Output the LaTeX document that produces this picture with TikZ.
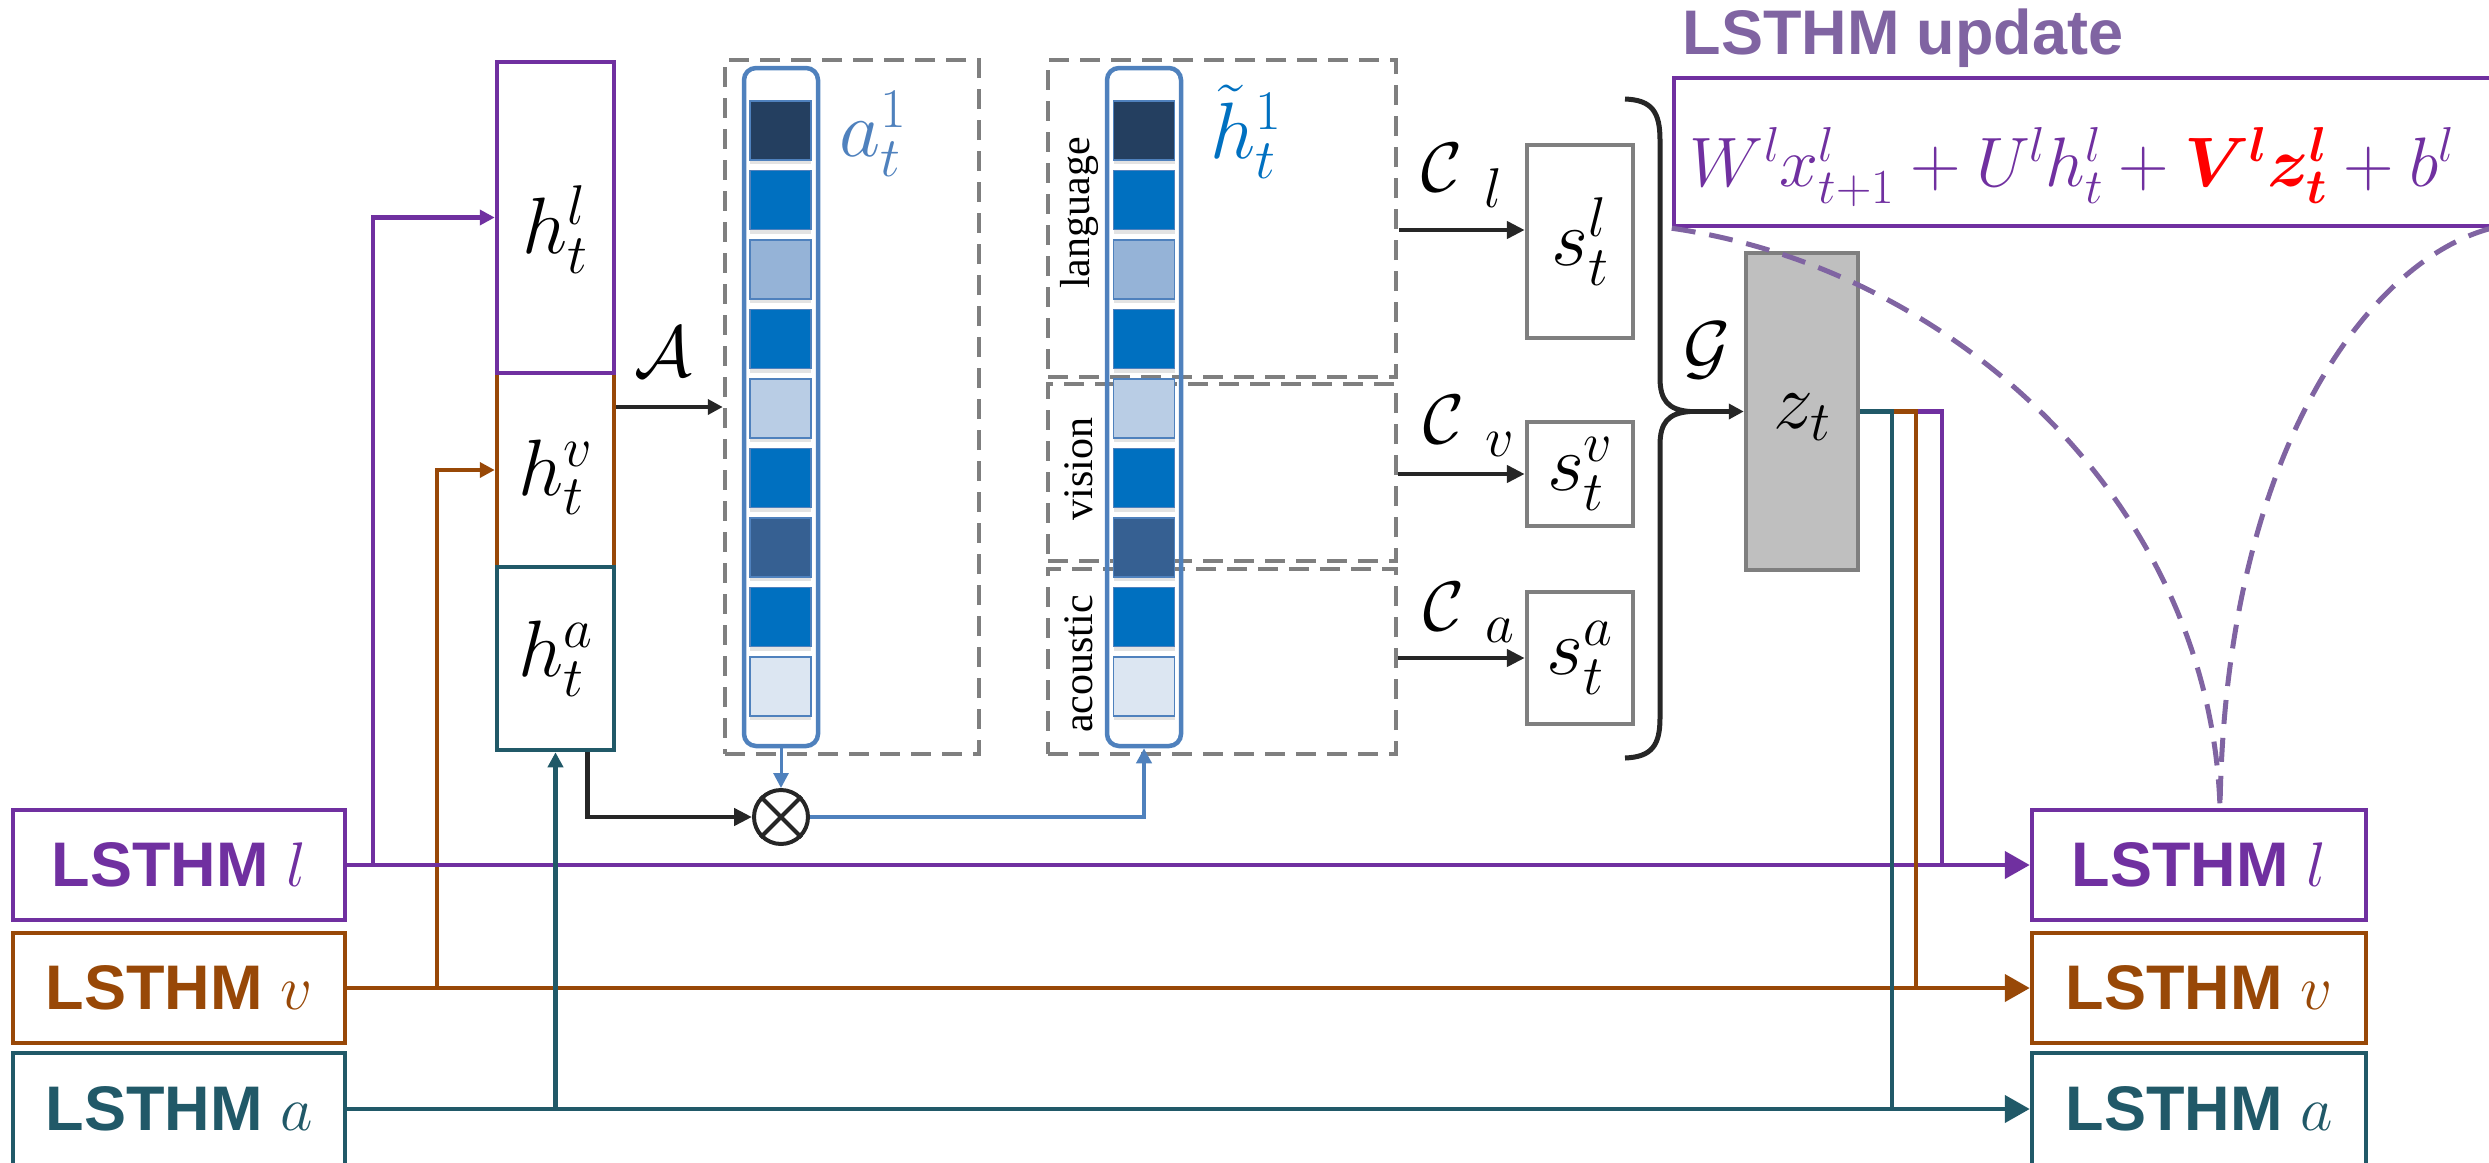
\documentclass[tikz,border=0pt]{standalone}
\usepackage{fix-cm}
\usepackage{bm}
\usepackage{fontspec}
\newfontfamily\lsf{Liberation Sans}
\newfontfamily\tnr{Liberation Serif}
\usetikzlibrary{arrows.meta,shadows}
\newcommand{\fsz}[1]{\fontsize{#1}{#1}\selectfont}
\definecolor{cpur}{HTML}{7030A0}
\definecolor{corg}{HTML}{984807}
\definecolor{ctea}{HTML}{215968}
\definecolor{cupd}{HTML}{8064A2}
\definecolor{cvec}{HTML}{4F81BD}
\definecolor{chtl}{HTML}{0070C0}
\definecolor{cgry}{HTML}{7F7F7F}
\definecolor{czf}{HTML}{BFBFBF}
\definecolor{cc1}{HTML}{243F60}
\definecolor{cc2}{HTML}{0070C0}
\definecolor{cc3}{HTML}{95B3D7}
\definecolor{cc4}{HTML}{B9CDE5}
\definecolor{cc5}{HTML}{DCE6F2}
\definecolor{cc6}{HTML}{366092}
\definecolor{cblk}{HTML}{262626}
\begin{document}
\begin{tikzpicture}[x=1pt,y=-1pt,
  lw/.style={line width=4.5pt},
  sarr/.style={-{Triangle[length=15pt,width=15pt]}},
  marr/.style={-{Triangle[length=18pt,width=17pt]}},
  barr/.style={-{Triangle[length=25pt,width=27pt]}},
  hbox/.style={draw, line width=4.5pt, inner sep=0pt, minimum width=117pt, font=\fsz{80}},
  gbox/.style={draw=cgry, line width=4.5pt, dash pattern=on 20pt off 11pt, inner sep=0pt, minimum width=348pt},
  vecbox/.style={draw=cvec, line width=4.5pt, rounded corners=12pt, minimum width=74pt, minimum height=678pt, inner sep=0pt},
  cell/.style={draw=cvec, line width=1.5pt, minimum width=61pt, minimum height=59pt, inner sep=0pt,
     drop shadow={shadow xshift=0pt, shadow yshift=-4pt, opacity=0.22}},
  sbox/.style={draw=cgry, line width=4.5pt, minimum width=106pt, inner sep=0pt, font=\fsz{80}},
  lbox/.style={draw, fill=white, line width=4.5pt, minimum width=332pt, minimum height=110pt, inner sep=0pt, font=\lsf\bfseries\fsz{63}},
  mlab/.style={font=\fsz{80}, inner sep=0pt},
  clab/.style={font=\fsz{70}, inner sep=0pt},
  csub/.style={font=\fsz{56}, inner sep=0pt},
  modlab/.style={font=\tnr\fsz{42}, rotate=90, inner sep=0pt},
  pdash/.style={draw=cupd, line width=5pt, dash pattern=on 24pt off 14pt}
]
\useasboundingbox (0,0) rectangle (2489,1162);

% ---- h boxes ----
\node[hbox, draw=corg, minimum height=194pt, text height=70pt] (hv) at (555.5,470) {$h^v_t$};
\node[hbox, draw=cpur, minimum height=311pt, text height=92pt] (hl) at (555.5,217.5) {$h^l_t$};
\node[hbox, draw=ctea, minimum height=183pt] (ha) at (555.5,658.5) {$h^a_t$};

% ---- dashed boxes ----
\node[gbox, minimum width=254pt, minimum height=694pt] (abox) at (852,407) {};
\node[gbox, minimum height=317pt] (lang) at (1222,218.5) {};
\node[gbox, minimum height=177pt] (vis) at (1222,472.5) {};
\node[gbox, minimum height=185pt] (aco) at (1222,661.5) {};
\node[modlab] (langl) at (1079,213) {language};
\node[modlab] (visl) at (1079,469) {vision};
\node[modlab] (acol) at (1079,664) {acoustic};

% ---- vectors ----
\node[vecbox] (avec) at (781,407) {};
\node[vecbox] (hvec) at (1144,407) {};
\foreach \c [count=\i from 0] in {cc1,cc2,cc3,cc2,cc4,cc2,cc6,cc2,cc5} {
  \node[cell, fill=\c] (ac\i) at (780.5,130.5+69.5*\i) {};
  \node[cell, fill=\c] (hc\i) at (1144,130.5+69.5*\i) {};
}
\node[mlab, text=cvec] (alab) at (873,134) {$a^1_t$};
\node[mlab, text=chtl] (htlab) at (1246,132) {$\tilde{h}^1_t$};

% ---- A arrow ----
\draw[cblk, line width=4pt, sarr] (hv.east |- abox.west) -- (abox.west);
\node[font=\fsz{72}, inner sep=0pt] (Alab) at (663,352) {$\mathcal{A}$};

% ---- otimes ----
\node[circle, draw=cblk, line width=4pt, minimum size=54pt, inner sep=0pt] (ot) at (781,817) {};
\draw[cblk, line width=4pt] (ot.north west) -- (ot.south east) (ot.north east) -- (ot.south west);
\draw[cvec, line width=3pt, sarr] (avec.south) -- (ot.north);
\draw[cblk, lw, marr] ([xshift=32pt]ha.south) |- (ot.west);
\draw[cvec, lw, sarr] (ot.east) -| (hvec.south);

% ---- s boxes ----
\node[sbox, minimum height=193pt] (sl) at (1580,241.5) {$s^l_t$};
\node[sbox, minimum height=104pt] (sv) at (1580,474) {$s^v_t$};
\node[sbox, minimum height=132pt] (sa) at (1580,658) {$s^a_t$};
\coordinate (cl0) at (1399,230);
\draw[cblk, lw, marr] (cl0) -- (cl0 -| sl.west);
\draw[cblk, lw, marr] (vis.east |- sv.west) -- (sv.west);
\draw[cblk, lw, marr] (aco.east |- sa.west) -- (sa.west);
\node[clab] (cl) at (1442,168) {$\mathcal{C}$};
\node[csub] (cls) at (1493,188) {$l$};
\node[clab] (cv) at (1444,420) {$\mathcal{C}$};
\node[csub] (cvs) at (1500,444) {$v$};
\node[clab] (ca) at (1444,607) {$\mathcal{C}$};
\node[csub] (cas) at (1500,630) {$a$};

% ---- brace, z ----
\draw[cblk, line width=5pt] (1625,99) .. controls (1652,100) and (1660,112) .. (1660,140) -- (1660,378)
   .. controls (1660,400) and (1668,410) .. (1690,411.5)
   .. controls (1668,413) and (1660,423) .. (1660,445) -- (1660,718)
   .. controls (1660,745) and (1652,757) .. (1625,758);
\node[draw=cgry, fill=czf, line width=4.5pt, minimum width=112pt, minimum height=317pt, inner sep=0pt, font=\fsz{80}, text height=45pt] (zt) at (1802,411.5) {$z_t$};
\coordinate (brtip) at (1690,411.5);
\draw[cblk, lw, sarr] (brtip) -- (zt.west);
\node[font=\fsz{72}, inner sep=0pt] (Glab) at (1707,350) {$\mathcal{G}$};

% ---- LSTHM boxes ----
\node[lbox, draw=cpur, text=cpur] (Ll) at (179,865) {LSTHM $l$};
\node[lbox, draw=corg, text=corg] (Lv) at (179,988) {LSTHM $v$};
\node[lbox, draw=ctea, text=ctea, minimum height=112pt] (La) at (179,1109) {LSTHM $a$};
\node[lbox, draw=cpur, text=cpur, minimum width=334pt] (Rl) at (2199,865) {LSTHM $l$};
\node[lbox, draw=corg, text=corg, minimum width=334pt] (Rv) at (2199,988) {LSTHM $v$};
\node[lbox, draw=ctea, text=ctea, minimum width=334pt, minimum height=112pt] (Ra) at (2199,1109) {LSTHM $a$};

% ---- main lines ----
\coordinate (pj) at (373,865);
\coordinate (oj) at (437,988);
\draw[cpur, lw, sarr] (pj) |- (hl.west);
\draw[corg, lw, sarr] (oj) |- (hv.west);
\draw[cpur, lw, barr] (Ll.east) -- (Rl.west);
\draw[corg, lw, barr] (Lv.east) -- (Rv.west);
\draw[ctea, lw, barr] (La.east) -- (Ra.west);
\draw[ctea, lw, sarr] (ha.south |- La.east) -- (ha.south);

% ---- z outputs ----
\draw[cpur, lw] (zt.east) -| ([xshift=-88pt]Rl.west);
\draw[corg, lw] (zt.east) -| ([xshift=-114pt]Rv.west);
\draw[ctea, lw] (zt.east) -| ([xshift=-138pt]Ra.west);

% ---- update ----
\node[text=cupd, font=\lsf\bfseries\fsz{63}, inner sep=0pt] (updl) at (1903,38) {LSTHM update};
\node[draw=cpur, line width=4.5pt, minimum width=826pt, minimum height=148pt, inner sep=0pt,
      text=cpur, font=\fsz{70}, text height=89pt, text depth=20pt] (upd) at (2087,152)
  {$W^l x^l_{t+1} + U^l h^l_t + \textcolor{red}{\bm{V}^{\bm{l}}\bm{z}^{\bm{l}}_{\bm{t}}} + b^l$\hspace*{30pt}};
\draw[pdash] (upd.south west) .. controls (1950,268) and (2210,500) .. ([xshift=21pt]Rl.north);
\draw[pdash] ([xshift=-11pt]upd.south east) .. controls (2370,260) and (2225,450) .. ([xshift=21pt]Rl.north);
\end{tikzpicture}
\end{document}
